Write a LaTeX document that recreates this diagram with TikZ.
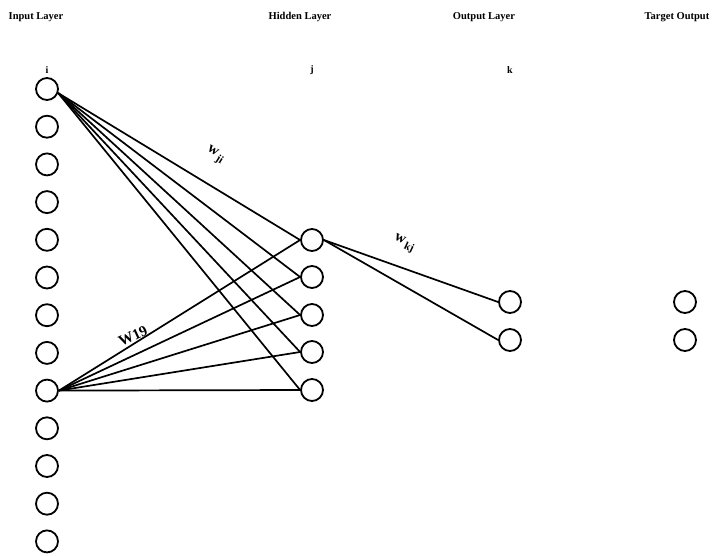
\documentclass[tikz,border=0pt]{standalone}
\usepackage{fontspec}
\setmainfont{Liberation Serif}
\newcommand{\wsub}[2]{#1\kern1.5pt\raisebox{-4pt}{\fontsize{11}{12}\selectfont #2}}
\begin{document}
\begin{tikzpicture}[x=1pt,y=-1pt,
  neuron/.style={circle,draw,line width=1.8pt,minimum size=22pt,inner sep=0pt},
  conn/.style={line width=1.7pt},
  hdr/.style={font=\fontsize{10.5}{12}\selectfont\bfseries,inner sep=0pt},
  idx/.style={font=\fontsize{10}{11}\selectfont\bfseries,inner sep=0pt},
  wlab/.style={font=\fontsize{15}{17}\selectfont\bfseries,inner sep=0pt}]
\useasboundingbox (0,0) rectangle (713,556);
% headers
\node[hdr] (h1) at (36,17) {Input Layer};
\node[hdr] (h2) at (300,17) {Hidden Layer};
\node[hdr] (h3) at (484,17) {Output Layer};
\node[hdr] (h4) at (677,17) {Target Output};
\node[idx] (li) at (47,70) {i};
\node[idx] (lj) at (312,70) {j};
\node[idx] (lk) at (510,70) {k};
% input neurons
\foreach \n in {1,...,13}{
  \node[neuron] (in\n) at (47,{89+(\n-1)*37.7}) {};
}
% hidden neurons
\foreach \n/\y in {1/240,2/277,3/315,4/352,5/390}{
  \node[neuron] (hd\n) at (312,\y) {};
}
% output
\node[neuron] (o1) at (510,302) {};
\node[neuron] (o2) at (510,340) {};
% target
\node[neuron] (t1) at (685,302) {};
\node[neuron] (t2) at (685,340) {};
% connections
\foreach \n in {1,...,5}{
  \draw[conn] (in1.-20) -- (hd\n.west);
  \draw[conn] (in9.east) -- (hd\n.west);
}
\draw[conn] (hd1.east) -- (o1.west);
\draw[conn] (hd1.east) -- (o2.west);
% weight labels
\node[wlab,rotate=-32] (wji) at (215,155) {\wsub{w}{ji}};
\node[wlab,rotate=-25] (wkj) at (404,244) {\wsub{w}{kj}};
\node[wlab,rotate=25] (w19) at (133,336) {W19};
\end{tikzpicture}
\end{document}
